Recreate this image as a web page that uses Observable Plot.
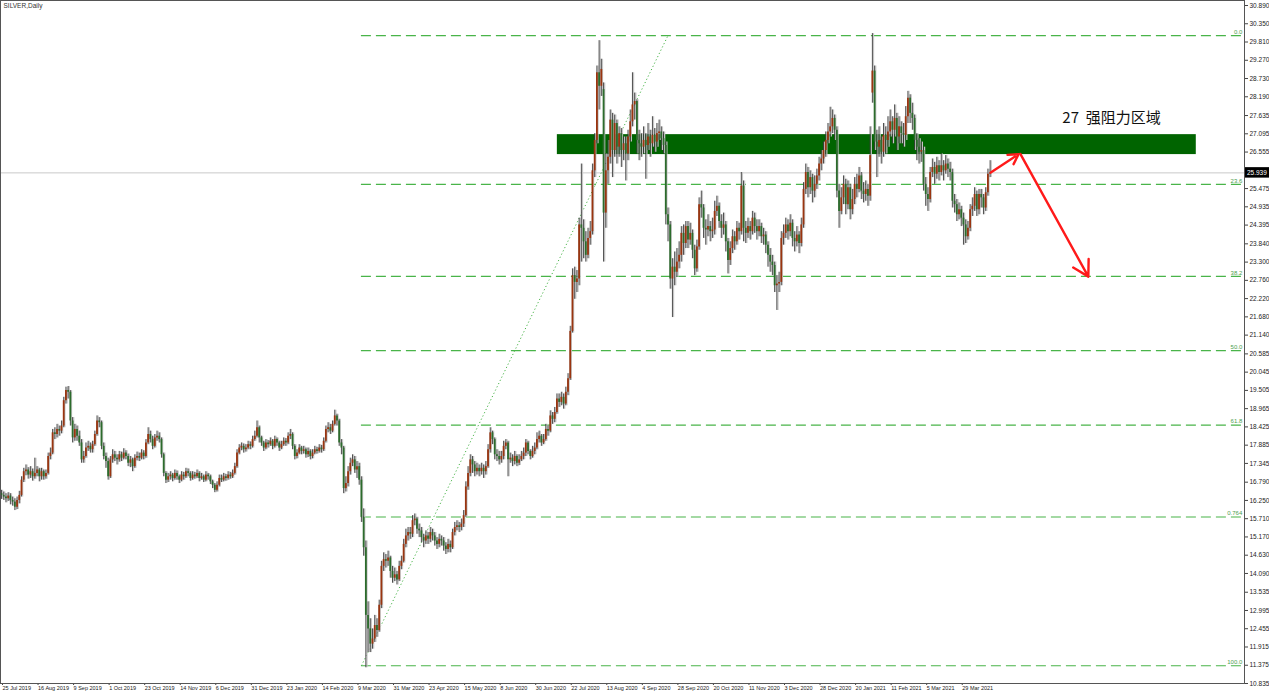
<!DOCTYPE html>
<html><head><meta charset="utf-8">
<script src="https://cdn.jsdelivr.net/npm/d3@7"></script>
<script src="https://cdn.jsdelivr.net/npm/@observablehq/plot@0.6"></script>
<style>
body{margin:0;background:#fff;}
#chart svg{display:block}
</style></head><body><div id="chart"></div>
<script>
const symbolTitle = "SILVER,Daily";
const opens=[
16.45,16.40,16.35,16.30,16.38,16.25,16.20,16.05,16.25,16.40,
16.85,17.10,17.15,17.00,17.10,16.95,17.05,17.15,16.95,17.10,
16.95,17.05,17.55,17.65,18.25,18.20,18.35,18.30,18.45,19.20,
19.50,19.45,18.60,18.10,18.35,18.15,17.95,17.45,17.55,17.80,
17.85,17.75,17.90,18.20,18.60,18.55,17.85,17.55,17.40,16.95,
17.45,17.60,17.50,17.45,17.60,17.50,17.65,17.55,17.35,17.45,
17.25,17.50,17.55,17.50,17.65,17.55,17.95,18.20,18.05,17.85,
18.10,18.15,18.05,17.60,17.05,16.85,16.95,17.00,16.90,17.05,
16.95,16.85,17.00,16.95,17.10,17.05,16.90,17.00,16.95,17.05,
16.90,16.95,16.85,17.00,16.95,16.80,16.70,16.55,16.70,16.90,
16.85,16.95,16.90,17.00,16.95,17.05,17.25,17.65,17.80,17.85,
17.75,17.80,17.90,17.85,18.05,18.15,18.40,18.10,17.95,17.80,
17.95,17.90,18.00,17.85,18.05,17.95,17.80,17.90,18.00,17.95,
18.15,18.20,17.85,17.55,17.65,17.80,17.70,17.75,17.60,17.70,
17.55,17.65,17.75,17.70,17.80,17.75,18.00,18.35,18.40,18.30,
18.50,18.75,18.60,17.95,17.80,16.60,16.75,17.10,17.35,17.45,
17.15,17.25,16.85,15.75,14.85,12.85,12.45,12.00,12.15,12.55,
12.40,13.15,14.30,14.50,14.45,14.55,14.15,13.95,14.05,13.90,
14.30,14.45,14.95,15.20,15.30,15.25,15.65,15.70,15.40,15.35,
15.15,15.05,15.20,15.10,15.30,15.20,15.05,14.95,15.10,15.05,
14.90,14.80,14.95,14.85,15.30,15.45,15.50,15.45,15.55,15.80,
16.65,17.05,17.45,17.30,17.10,17.20,17.10,17.20,17.10,17.25,
17.75,18.25,18.05,17.60,17.55,17.45,17.55,17.85,17.95,17.45,
17.50,17.40,17.55,17.35,17.45,17.55,17.65,17.95,17.70,17.55,
17.70,17.80,18.05,18.15,17.95,18.05,18.35,18.30,18.75,18.65,
18.85,19.25,19.15,19.30,19.10,19.45,19.85,21.25,22.90,22.70,
22.80,24.40,24.30,23.90,23.50,24.00,24.20,26.00,26.90,28.90,
28.50,28.40,24.75,26.00,26.40,27.50,26.60,27.40,26.70,27.10,
26.60,26.80,26.50,27.00,27.45,27.95,28.05,26.90,26.80,26.70,
26.90,26.75,27.00,26.80,27.05,26.85,27.10,27.15,26.95,26.75,
24.70,24.40,22.80,23.15,23.00,23.30,23.50,24.15,23.85,24.35,
23.95,24.15,23.65,23.10,23.75,25.00,24.90,24.30,24.25,24.35,
24.20,24.25,24.80,24.95,24.50,24.30,24.40,23.90,23.35,23.70,
24.05,23.90,24.30,24.20,25.55,24.30,24.15,24.35,24.20,24.60,
24.35,24.20,24.35,24.05,24.10,23.80,23.50,23.30,23.20,22.60,
22.65,22.70,24.00,24.15,24.40,24.20,24.45,24.00,23.90,24.10,
23.85,24.40,25.45,25.95,25.50,25.80,25.40,25.60,25.85,26.20,
26.35,26.60,26.90,27.15,27.30,27.55,27.20,25.40,24.80,25.20,
25.60,25.00,25.50,24.85,25.15,25.60,25.45,25.85,25.40,25.30,
25.45,25.25,28.30,28.95,26.85,26.70,26.90,26.55,27.05,26.90,
27.15,27.45,27.20,27.55,27.00,27.30,27.10,27.05,27.60,28.15,
27.70,27.55,26.90,26.70,26.55,26.60,25.60,25.30,25.15,25.95,
26.10,25.90,26.15,25.95,26.15,26.00,26.20,26.05,25.95,25.10,
25.00,24.70,24.85,24.60,24.40,24.05,24.30,24.85,24.95,25.30,
24.85,25.30,25.20,24.90,25.35,25.90];
const highs=[
16.55,16.50,16.45,16.48,16.45,16.35,16.30,16.35,16.52,16.95,
17.20,17.30,17.22,17.25,17.18,17.50,17.25,17.20,17.20,17.15,
17.15,17.65,17.80,18.35,18.40,18.50,18.45,18.60,19.30,19.60,
19.62,19.50,18.70,18.50,18.45,18.30,18.05,17.70,17.95,18.00,
17.95,18.00,18.30,18.75,18.70,18.60,17.95,17.65,17.50,17.55,
17.75,17.70,17.60,17.70,17.68,17.78,17.72,17.62,17.55,17.50,
17.60,17.68,17.65,17.75,17.72,18.05,18.40,18.30,18.15,18.20,
18.30,18.25,18.10,17.65,17.10,17.05,17.10,17.05,17.15,17.12,
17.00,17.10,17.08,17.20,17.18,17.10,17.10,17.08,17.15,17.10,
17.05,17.00,17.10,17.05,17.00,16.85,16.75,16.80,17.00,17.00,
17.05,17.02,17.10,17.08,17.15,17.35,17.75,17.90,17.95,17.92,
17.90,18.00,17.98,18.15,18.30,18.60,18.45,18.15,18.00,18.05,
18.02,18.10,18.05,18.15,18.10,18.00,18.00,18.10,18.08,18.25,
18.35,18.25,17.90,17.75,17.90,17.85,17.85,17.80,17.80,17.75,
17.75,17.85,17.82,17.90,17.88,18.10,18.45,18.55,18.50,18.60,
18.92,18.80,18.65,18.05,17.85,16.95,17.25,17.50,17.60,17.55,
17.40,17.35,16.95,16.00,15.05,13.25,12.75,12.45,12.85,12.75,
13.30,14.45,14.70,14.65,14.75,14.60,14.30,14.25,14.15,14.45,
14.60,15.10,15.40,15.45,15.45,15.80,15.85,15.75,15.55,15.45,
15.25,15.35,15.30,15.45,15.40,15.30,15.15,15.25,15.20,15.15,
15.00,15.10,15.05,15.40,15.60,15.65,15.60,15.70,15.95,16.80,
17.25,17.60,17.55,17.40,17.35,17.30,17.35,17.30,17.40,17.90,
18.40,18.30,18.10,17.75,17.70,17.70,18.00,18.05,18.00,17.65,
17.60,17.70,17.60,17.60,17.70,17.80,18.05,18.00,17.75,17.85,
17.95,18.25,18.30,18.20,18.20,18.50,18.45,18.90,18.85,19.00,
19.40,19.40,19.45,19.40,19.60,20.00,21.40,23.10,23.15,23.05,
24.60,26.20,24.55,24.20,24.30,24.50,26.20,27.10,29.10,29.85,
29.30,28.60,26.50,26.90,27.80,27.70,27.65,27.50,27.30,27.25,
27.00,27.00,27.20,27.80,28.90,28.30,28.10,27.20,27.10,27.30,
27.10,27.40,27.20,27.60,27.25,27.40,27.50,27.30,27.15,26.85,
24.90,24.50,23.40,23.60,23.70,23.90,24.35,24.40,24.50,24.50,
24.45,24.25,23.80,23.95,25.20,25.40,25.00,24.55,24.70,24.50,
24.60,25.10,25.25,25.05,24.70,24.75,24.50,24.00,23.90,24.25,
24.20,24.50,24.45,25.95,25.70,24.50,24.60,24.50,24.80,24.75,
24.55,24.55,24.45,24.30,24.20,23.90,23.70,23.50,23.30,22.90,
23.00,24.20,24.40,24.60,24.55,24.70,24.55,24.20,24.35,24.20,
24.60,25.65,26.20,26.10,26.00,25.90,25.85,26.05,26.40,26.60,
26.85,27.15,27.40,27.88,27.80,27.65,27.30,25.60,25.50,25.85,
25.75,25.70,25.60,25.45,25.80,25.90,26.10,25.95,25.65,25.70,
25.60,27.30,30.06,29.10,27.20,27.30,27.00,27.40,27.30,27.60,
27.80,27.60,27.95,27.70,27.60,27.45,27.40,27.90,28.35,28.25,
28.00,27.65,27.10,26.95,26.85,26.70,25.80,25.50,26.10,26.35,
26.25,26.40,26.30,26.50,26.30,26.45,26.35,26.25,26.05,25.30,
25.15,25.05,24.95,24.75,24.55,24.50,25.00,25.20,25.50,25.40,
25.45,25.45,25.30,25.50,26.05,26.30];
const lows=[
16.28,16.25,16.18,16.22,16.12,16.08,15.95,15.98,16.15,16.35,
16.78,16.98,16.88,16.90,16.82,16.88,16.95,16.80,16.85,16.85,
16.88,17.00,17.45,17.60,18.05,18.10,18.15,18.22,18.40,19.10,
19.25,18.45,17.95,18.00,18.00,17.85,17.35,17.35,17.50,17.70,
17.65,17.65,17.85,18.15,18.40,17.75,17.45,17.20,16.85,16.90,
17.35,17.40,17.30,17.38,17.40,17.45,17.45,17.25,17.22,17.10,
17.20,17.42,17.40,17.45,17.45,17.50,17.90,17.95,17.75,17.80,
18.00,17.95,17.50,16.95,16.75,16.78,16.85,16.80,16.85,16.85,
16.75,16.80,16.85,16.90,16.95,16.82,16.85,16.88,16.90,16.80,
16.85,16.78,16.80,16.85,16.72,16.60,16.48,16.50,16.65,16.78,
16.80,16.82,16.85,16.88,16.90,17.00,17.20,17.60,17.72,17.65,
17.68,17.75,17.75,17.80,18.00,18.10,17.95,17.85,17.70,17.75,
17.80,17.85,17.75,17.80,17.85,17.70,17.75,17.85,17.85,17.90,
18.05,17.75,17.45,17.48,17.60,17.60,17.62,17.50,17.52,17.45,
17.48,17.60,17.62,17.65,17.65,17.70,17.95,18.25,18.20,18.25,
18.45,18.45,17.85,17.60,16.45,16.50,16.65,17.00,17.25,17.05,
16.90,16.70,15.60,14.60,11.30,11.75,11.75,11.85,12.05,12.20,
12.35,13.05,14.15,14.25,14.30,13.95,13.80,13.85,13.75,13.85,
14.20,14.40,14.85,15.05,15.10,15.15,15.50,15.25,15.15,15.00,
14.85,14.95,14.95,15.00,15.05,14.90,14.80,14.85,14.90,14.75,
14.65,14.70,14.70,14.80,15.20,15.35,15.30,15.35,15.45,15.75,
16.55,16.95,17.05,16.95,17.00,16.95,17.00,16.90,17.00,17.20,
17.65,17.90,17.45,17.40,17.30,17.35,17.45,17.75,16.95,17.35,
17.25,17.30,17.25,17.28,17.40,17.45,17.55,17.60,17.45,17.50,
17.60,17.75,17.95,17.85,17.90,18.00,18.15,18.25,18.50,18.55,
18.80,19.00,19.05,18.95,19.05,19.35,19.80,21.20,22.20,22.40,
22.60,23.30,23.40,23.30,23.40,23.80,24.10,25.80,26.80,27.80,
28.20,23.30,24.30,25.60,26.20,25.80,26.40,26.20,26.40,26.10,
26.30,25.70,26.30,26.85,27.30,27.50,26.50,26.30,26.40,26.50,
25.75,26.60,26.40,26.70,26.55,26.70,26.90,26.60,26.50,24.40,
23.90,22.50,21.66,22.60,22.85,23.10,23.30,23.50,23.70,23.70,
23.80,23.40,22.90,23.00,23.65,24.60,24.00,23.80,24.05,23.90,
24.00,24.10,24.65,24.30,24.00,24.10,23.60,22.95,23.20,23.55,
23.65,23.80,23.95,24.10,23.90,23.85,24.00,23.95,24.10,24.15,
23.95,24.05,23.85,23.80,23.55,23.15,23.00,22.90,22.40,21.87,
22.40,22.60,23.80,24.00,23.95,24.05,23.75,23.60,23.75,23.55,
23.75,24.30,25.30,25.20,25.30,25.05,25.20,25.45,25.70,26.00,
26.20,26.40,26.80,27.00,27.10,26.90,25.20,24.30,24.70,25.00,
24.70,24.85,24.55,24.70,25.00,25.20,25.35,25.15,25.05,25.10,
24.95,25.10,28.00,26.60,25.80,26.40,26.20,26.40,26.50,26.70,
27.00,26.80,27.00,26.60,26.80,26.80,26.70,26.90,27.40,27.40,
27.20,26.60,26.30,26.20,26.25,25.40,24.95,24.80,25.05,25.80,
25.60,25.75,25.70,25.85,25.70,25.90,25.80,25.70,24.90,24.75,
24.50,24.55,24.35,23.80,23.85,23.95,24.20,24.65,24.80,24.65,
24.70,24.90,24.70,24.80,25.25,25.80];
const closes=[
16.40,16.35,16.30,16.38,16.25,16.20,16.05,16.25,16.40,16.85,
17.10,17.15,17.00,17.10,16.95,17.05,17.15,16.95,17.10,16.95,
17.05,17.55,17.65,18.25,18.20,18.35,18.30,18.45,19.20,19.50,
19.45,18.60,18.10,18.35,18.15,17.95,17.45,17.55,17.80,17.85,
17.75,17.90,18.20,18.60,18.55,17.85,17.55,17.40,16.95,17.45,
17.60,17.50,17.45,17.60,17.50,17.65,17.55,17.35,17.45,17.25,
17.50,17.55,17.50,17.65,17.55,17.95,18.20,18.05,17.85,18.10,
18.15,18.05,17.60,17.05,16.85,16.95,17.00,16.90,17.05,16.95,
16.85,17.00,16.95,17.10,17.05,16.90,17.00,16.95,17.05,16.90,
16.95,16.85,17.00,16.95,16.80,16.70,16.55,16.70,16.90,16.85,
16.95,16.90,17.00,16.95,17.05,17.25,17.65,17.80,17.85,17.75,
17.80,17.90,17.85,18.05,18.15,18.40,18.10,17.95,17.80,17.95,
17.90,18.00,17.85,18.05,17.95,17.80,17.90,18.00,17.95,18.15,
18.20,17.85,17.55,17.65,17.80,17.70,17.75,17.60,17.70,17.55,
17.65,17.75,17.70,17.80,17.75,18.00,18.35,18.40,18.30,18.50,
18.75,18.60,17.95,17.80,16.60,16.75,17.10,17.35,17.45,17.15,
17.25,16.85,15.75,14.85,12.85,12.45,12.00,12.15,12.55,12.40,
13.15,14.30,14.50,14.45,14.55,14.15,13.95,14.05,13.90,14.30,
14.45,14.95,15.20,15.30,15.25,15.65,15.70,15.40,15.35,15.15,
15.05,15.20,15.10,15.30,15.20,15.05,14.95,15.10,15.05,14.90,
14.80,14.95,14.85,15.30,15.45,15.50,15.45,15.55,15.80,16.65,
17.05,17.45,17.30,17.10,17.20,17.10,17.20,17.10,17.25,17.75,
18.25,18.05,17.60,17.55,17.45,17.55,17.85,17.95,17.45,17.50,
17.40,17.55,17.35,17.45,17.55,17.65,17.95,17.70,17.55,17.70,
17.80,18.05,18.15,17.95,18.05,18.35,18.30,18.75,18.65,18.85,
19.25,19.15,19.30,19.10,19.45,19.85,21.25,22.90,22.70,22.80,
24.40,24.30,23.90,23.50,24.00,24.20,26.00,26.90,28.90,28.50,
29.00,24.75,26.00,26.40,27.50,26.60,27.40,26.70,27.10,26.60,
26.80,26.50,27.00,27.45,27.95,28.05,26.90,26.80,26.70,26.90,
26.75,27.00,26.80,27.05,26.85,27.10,27.15,26.95,26.75,24.70,
24.40,22.80,23.15,23.00,23.30,23.50,24.15,23.85,24.35,23.95,
24.15,23.65,23.10,23.75,25.00,24.90,24.30,24.25,24.35,24.20,
24.25,24.80,24.95,24.50,24.30,24.40,23.90,23.35,23.70,24.05,
23.90,24.30,24.20,25.55,24.30,24.15,24.35,24.20,24.60,24.35,
24.20,24.35,24.05,24.10,23.80,23.50,23.30,23.20,22.60,22.65,
22.70,24.00,24.15,24.40,24.20,24.45,24.00,23.90,24.10,23.85,
24.40,25.45,25.95,25.50,25.80,25.40,25.60,25.85,26.20,26.35,
26.60,26.90,27.15,27.30,27.55,27.20,25.40,24.80,25.20,25.60,
25.00,25.50,24.85,25.15,25.60,25.45,25.85,25.40,25.30,25.45,
25.25,26.45,28.95,26.85,26.70,26.90,26.55,27.05,26.90,27.15,
27.45,27.20,27.55,27.00,27.30,27.10,27.05,27.60,28.15,27.70,
27.55,26.90,26.70,26.55,26.60,25.60,25.30,25.15,25.95,26.10,
25.90,26.15,25.95,26.15,26.00,26.20,26.05,25.95,25.10,25.00,
24.70,24.85,24.60,24.40,24.05,24.30,24.85,24.95,25.30,24.85,
25.30,25.20,24.90,25.35,25.90,25.94];

const dateTicks=[0,16,32,48,64,80,96,112,128,144,160,176,192,208,224,240,256,272,288,304,320,336,352,368,384,400,416,432];
const dateLabels=["25 Jul 2019","16 Aug 2019","9 Sep 2019","1 Oct 2019","23 Oct 2019","14 Nov 2019","6 Dec 2019","31 Dec 2019","23 Jan 2020","14 Feb 2020","9 Mar 2020","31 Mar 2020","23 Apr 2020","15 May 2020","8 Jun 2020","30 Jun 2020","22 Jul 2020","13 Aug 2020","4 Sep 2020","28 Sep 2020","20 Oct 2020","11 Nov 2020","3 Dec 2020","28 Dec 2020","20 Jan 2021","11 Feb 2021","5 Mar 2021","29 Mar 2021"];
const priceTicks=[30.890,30.350,29.810,29.270,28.730,28.190,27.635,27.095,26.555,25.475,24.935,24.395,23.840,23.300,22.760,22.220,21.680,21.140,20.585,20.045,19.505,18.965,18.425,17.885,17.345,16.790,16.250,15.710,15.170,14.630,14.090,13.535,12.995,12.455,11.915,11.375,10.835];
const fibPrices=[30.00,25.60,22.88,20.68,18.48,15.76,11.36];
const fibLabels=["0.0","23.6","38.2","50.0","61.8","0.764","100.0"];
const fibStartBar=162;
const fibTrend=[{x1:162,y1:11.36,x2:300,y2:30.00}];
const zone=[{x1:250.2,x2:537.8,y1:26.48,y2:27.07}];
const note=[{x:477.5,y:27.55,text:"27  强阻力区域"}];
const arrows=[{x1:445.3,y1:25.95,x2:457.8,y2:26.49},{x1:458.6,y1:26.50,x2:489.2,y2:22.87}];
const lastPrice=25.939;

const n=Math.min(opens.length,highs.length,lows.length,closes.length);
const bars=d3.range(n).map(i=>({i,o:opens[i],h:highs[i],l:lows[i],c:closes[i]}));
const X0=-0.45, X1=559.5;
const fib=fibPrices.map((p,k)=>({p,label:fibLabels[k],x1:fibStartBar,x2:X1-1}));
const labelMap=new Map(dateTicks.map((t,k)=>[t,dateLabels[k]]));

const chart=Plot.plot({
  width:1269,height:697,
  marginTop:0,marginLeft:0,marginRight:25,marginBottom:14,
  style:{fontFamily:"'Liberation Sans', Arial, sans-serif",fontSize:"6.5px",color:"#222",background:"#fff"},
  x:{type:"linear",domain:[X0,X1]},
  y:{type:"linear",domain:[10.835,31.038]},
  marks:[
    Plot.ruleY([lastPrice],{stroke:"#c9c9c9",strokeWidth:1}),
    Plot.rect(zone,{x1:"x1",x2:"x2",y1:"y1",y2:"y2",fill:"#006400"}),
    Plot.ruleY(fib,{y:"p",x1:"x1",x2:"x2",stroke:"#49b449",strokeWidth:1.2,strokeDasharray:"10,5"}),
    Plot.link(fibTrend,{x1:"x1",y1:"y1",x2:"x2",y2:"y2",stroke:"#49b449",strokeWidth:1,strokeDasharray:"1.2,2.4"}),
    Plot.text(fib,{x:"x2",y:"p",text:"label",textAnchor:"end",dy:-3.5,fill:"#4e9e4e",fontSize:6}),
    Plot.ruleX(bars,{x:"i",y1:"l",y2:"h",stroke:"#c6c6c6",strokeWidth:1.3,dx:1.1}),
    Plot.ruleX(bars,{x:"i",y1:"l",y2:"h",stroke:"#3a3a3a",strokeWidth:0.9}),
    Plot.ruleX(bars,{x:"i",y1:"o",y2:"c",stroke:d=>d.c>=d.o?"#9a3510":"#2c6c2c",strokeWidth:1.8}),
    Plot.arrow(arrows,{x1:"x1",y1:"y1",x2:"x2",y2:"y2",stroke:"#ff1a1a",strokeWidth:2.4,headLength:11}),
    Plot.text(note,{x:"x",y:"y",text:"text",textAnchor:"start",fontSize:15,fontFamily:"'Noto Sans CJK SC', sans-serif",fill:"#111"}),
    Plot.axisY({anchor:"right",ticks:priceTicks,tickFormat:d=>d.toFixed(3),tickSize:3,tickPadding:2,fontSize:6.5,stroke:"#444"}),
    Plot.axisX({anchor:"bottom",ticks:dateTicks,tickFormat:d=>labelMap.get(d)||"",tickSize:2,tickPadding:1,textAnchor:"start",dx:1,fontSize:5.5,stroke:"#444"}),
    Plot.rect([{}],{x1:X1+0.3,x2:X1+11.6,y1:lastPrice-0.155,y2:lastPrice+0.155,fill:"#000"}),
    Plot.text([{}],{x:X1+1.1,y:lastPrice,text:()=>lastPrice.toFixed(3),textAnchor:"start",fill:"#fff",fontSize:6.5}),
    Plot.text([symbolTitle],{frameAnchor:"top-left",dx:3,dy:3,fontSize:6.5,fill:"#333"}),
    Plot.frame({stroke:"#555"})
  ]
});
document.getElementById("chart").appendChild(chart);
</script></body></html>
